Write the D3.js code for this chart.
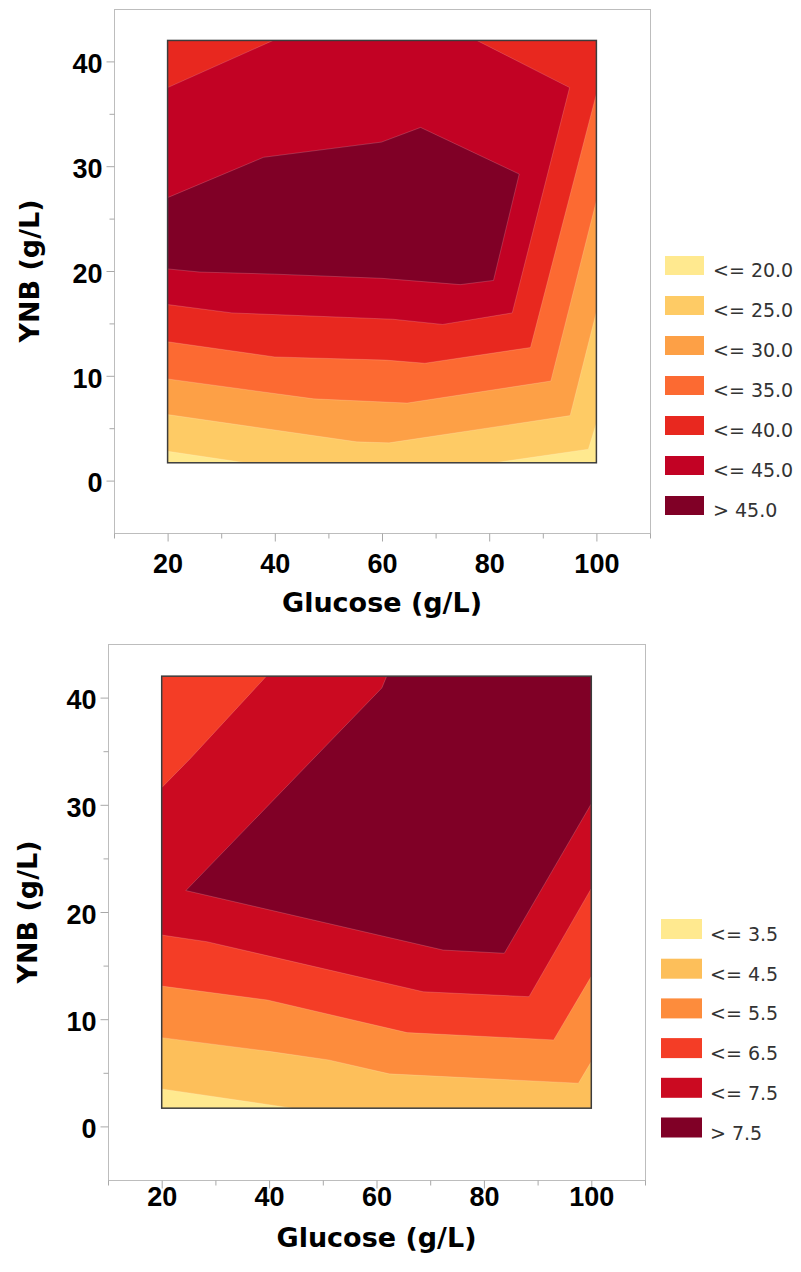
<!DOCTYPE html>
<html>
<head>
<meta charset="utf-8">
<script src="https://cdn.jsdelivr.net/npm/d3@7"></script>
<style>
  html, body { margin: 0; padding: 0; background: #ffffff; }
  svg { display: block; }
</style>
</head>
<body>
<svg id="chart" width="801" height="1272"></svg>
<script>
// ---------------- data ----------------
const glucoseTicks = [20, 40, 60, 80, 100];
const glucoseMinorTicks = [10, 30, 50, 70, 90, 110];
const ynbTicks = [0, 10, 20, 30, 40];
const ynbMinorTicks = [5, 15, 25, 35];
const glucoseDomain = [10, 110];
const ynbDomain = [-5, 45];
const glucoseSpan = [20, 100];   // sampled design region
const ynbSpan = [1.7, 42];

// Upper panel: contour classes and the region (glucose, YNB) above each level
const upperLabels = ["<= 20.0", "<= 25.0", "<= 30.0", "<= 35.0", "<= 40.0", "<= 45.0", "> 45.0"];
const upperColors = ["#FFE98F", "#FECB65", "#FDA046", "#FC6A32", "#E8281F", "#C20224", "#800026"];
const upperAbove20 = [[20, 2.8], [34.5, 1.7], [81, 1.7], [98.5, 3.0], [100, 5.5], [100, 42], [20, 42]];
const upperAbove25 = [[20, 6.3], [55.3, 3.7], [61.3, 3.6], [95.1, 6.2], [100, 16.1], [100, 42], [20, 42]];
const upperAbove30 = [[20, 9.7], [47.3, 7.8], [64.7, 7.4], [91.5, 9.5], [100, 26.7], [100, 42], [20, 42]];
const upperAbove35 = [[20, 13.25], [40, 11.8], [60.7, 11.5], [68, 11.2], [87.7, 12.7], [100, 36.9], [100, 42], [20, 42]];
const upperAbove40 = [[20, 16.8], [32, 16.0], [62, 15.4], [71.3, 14.9], [84.3, 16.0], [95, 37.5], [77.7, 42], [39.7, 42], [20, 37.5]];
const upperAbove45 = [[20, 27.0], [37.9, 30.85], [59.9, 32.3], [67.2, 33.7], [85.6, 29.25], [80.8, 19.1], [74.6, 18.7], [60, 19.3], [40, 19.7], [26, 19.9], [20, 20.2]];
const upperRegions = [upperAbove20, upperAbove25, upperAbove30, upperAbove35, upperAbove40, upperAbove45];

// Lower panel
const lowerLabels = ["<= 3.5", "<= 4.5", "<= 5.5", "<= 6.5", "<= 7.5", "> 7.5"];
const lowerColors = ["#FFE98F", "#FDBF5A", "#FD8C3C", "#F43D26", "#CB0A21", "#800026"];
const lowerAbove35 = [[20, 3.5], [44.4, 1.7], [100, 1.7], [100, 42], [20, 42]];
const lowerAbove45 = [[20, 8.28], [40, 7.0], [51.1, 6.2], [62.4, 4.9], [97.6, 4.03], [100, 6.05], [100, 42], [20, 42]];
const lowerAbove55 = [[20, 13.09], [39.7, 11.79], [65.7, 8.75], [93, 8.07], [100, 14.0], [100, 42], [20, 42]];
const lowerAbove65 = [[20, 17.85], [28.4, 17.23], [68.7, 12.56], [88.4, 12.1], [100, 22.2], [100, 42], [39.5, 42], [25.3, 34.3], [20, 31.6]];
const lowerAbove75 = [[24.5, 22.0], [61, 40.9], [61.9, 42], [100, 42], [100, 30.1], [83.8, 16.15], [72.4, 16.45]];
const lowerRegions = [lowerAbove35, lowerAbove45, lowerAbove55, lowerAbove65, lowerAbove75];

// ---------------- drawing ----------------
const svg = d3.select("#chart");
const TICK_FONT = "'Liberation Sans', Arial, sans-serif";
const TITLE_FONT = "'DejaVu Sans', Verdana, sans-serif";
const LEGEND_FONT = "'DejaVu Sans', Verdana, sans-serif";

function drawPanel(cfg) {
  const x = d3.scaleLinear().domain(glucoseDomain).range([cfg.left, cfg.right]);
  const y = d3.scaleLinear().domain(ynbDomain).range([cfg.bottom, cfg.top]);
  const g = svg.append("g");

  // outer frame
  g.append("rect")
    .attr("x", cfg.left + 0.5).attr("y", cfg.top + 0.5)
    .attr("width", cfg.right - cfg.left).attr("height", cfg.bottom - cfg.top)
    .attr("fill", "none").attr("stroke", "#bdbdbd").attr("stroke-width", 1);

  // filled contour bands: base class, then each superlevel region on top
  const x0 = x(glucoseSpan[0]), x1 = x(glucoseSpan[1]);
  const y0 = y(ynbSpan[1]), y1 = y(ynbSpan[0]);
  g.append("rect")
    .attr("x", x0).attr("y", y0).attr("width", x1 - x0).attr("height", y1 - y0)
    .attr("fill", cfg.colors[0]);

  const line = d3.line().x(d => x(d[0])).y(d => y(d[1]));
  g.selectAll("path.band")
    .data(cfg.regions)
    .join("path")
    .attr("class", "band")
    .attr("d", d => line(d) + "Z")
    .attr("fill", (d, i) => cfg.colors[i + 1])
    .attr("stroke", "rgba(255,255,255,0.22)")
    .attr("stroke-width", 0.8)
    .attr("stroke-linejoin", "round");

  // contour region border
  g.append("rect")
    .attr("x", x0).attr("y", y0).attr("width", x1 - x0).attr("height", y1 - y0)
    .attr("fill", "none").attr("stroke", "#3c3c3c").attr("stroke-width", 1.5);

  // x axis: minor then major ticks
  const xMinor = g.append("g").attr("transform", `translate(0,${cfg.bottom + 0.5})`)
    .call(d3.axisBottom(x).tickValues(glucoseMinorTicks).tickSize(5).tickFormat(""));
  const xMajor = g.append("g").attr("transform", `translate(0,${cfg.bottom + 0.5})`)
    .call(d3.axisBottom(x).tickValues(glucoseTicks).tickSize(8).tickFormat(d3.format("d")));
  xMajor.selectAll("text")
    .attr("y", cfg.xLabelOffset).attr("dy", 0)
    .attr("font-family", TICK_FONT).attr("font-weight", "bold")
    .attr("font-size", 27).attr("fill", "#000");

  // y axis
  const yMinor = g.append("g").attr("transform", `translate(${cfg.left + 0.5},0)`)
    .call(d3.axisLeft(y).tickValues(ynbMinorTicks).tickSize(5).tickFormat(""));
  const yMajor = g.append("g").attr("transform", `translate(${cfg.left + 0.5},0)`)
    .call(d3.axisLeft(y).tickValues(ynbTicks).tickSize(8).tickFormat(d3.format("d")));
  yMajor.selectAll("text")
    .attr("x", -12).attr("dy", "0.42em")
    .attr("font-family", TICK_FONT).attr("font-weight", "bold")
    .attr("font-size", 27).attr("fill", "#000");

  [xMinor, xMajor, yMinor, yMajor].forEach(a => {
    a.select(".domain").remove();
    a.selectAll(".tick line").attr("stroke", "#a8a8a8");
  });

  // axis titles
  g.append("text")
    .attr("x", (cfg.left + cfg.right) / 2).attr("y", cfg.xTitleBaseline)
    .attr("text-anchor", "middle")
    .attr("font-family", TITLE_FONT).attr("font-weight", "bold").attr("font-size", 27)
    .attr("fill", "#000")
    .text("Glucose (g/L)");
  g.append("text")
    .attr("transform", `translate(${cfg.yTitleX},${(cfg.top + cfg.bottom) / 2}) rotate(-90)`)
    .attr("text-anchor", "middle").attr("dy", "0.36em")
    .attr("font-family", TITLE_FONT).attr("font-weight", "bold").attr("font-size", 27)
    .attr("fill", "#000")
    .text("YNB (g/L)");

  // legend
  const leg = g.append("g");
  const rows = leg.selectAll("g").data(cfg.labels).join("g")
    .attr("transform", (d, i) => `translate(${cfg.legendX},${cfg.legendTop + i * cfg.legendStep})`);
  rows.append("rect")
    .attr("width", cfg.swatchW).attr("height", cfg.swatchH)
    .attr("fill", (d, i) => cfg.colors[i]);
  rows.append("text")
    .attr("x", cfg.legendTextDx).attr("y", cfg.legendTextDy)
    .attr("font-family", LEGEND_FONT).attr("font-size", 19).attr("fill", "#333")
    .text(d => d);
}

drawPanel({
  left: 114, right: 650, top: 9, bottom: 533,
  colors: upperColors, regions: upperRegions, labels: upperLabels,
  xLabelOffset: 39, xTitleBaseline: 612, yTitleX: 29,
  legendX: 665, legendTop: 256, legendStep: 40, swatchW: 39, swatchH: 19,
  legendTextDx: 48, legendTextDy: 21
});

drawPanel({
  left: 108, right: 645, top: 644, bottom: 1180,
  colors: lowerColors, regions: lowerRegions, labels: lowerLabels,
  xLabelOffset: 25, xTitleBaseline: 1247, yTitleX: 27,
  legendX: 661, legendTop: 919, legendStep: 39.7, swatchW: 41, swatchH: 20,
  legendTextDx: 49, legendTextDy: 22
});
</script>
</body>
</html>
